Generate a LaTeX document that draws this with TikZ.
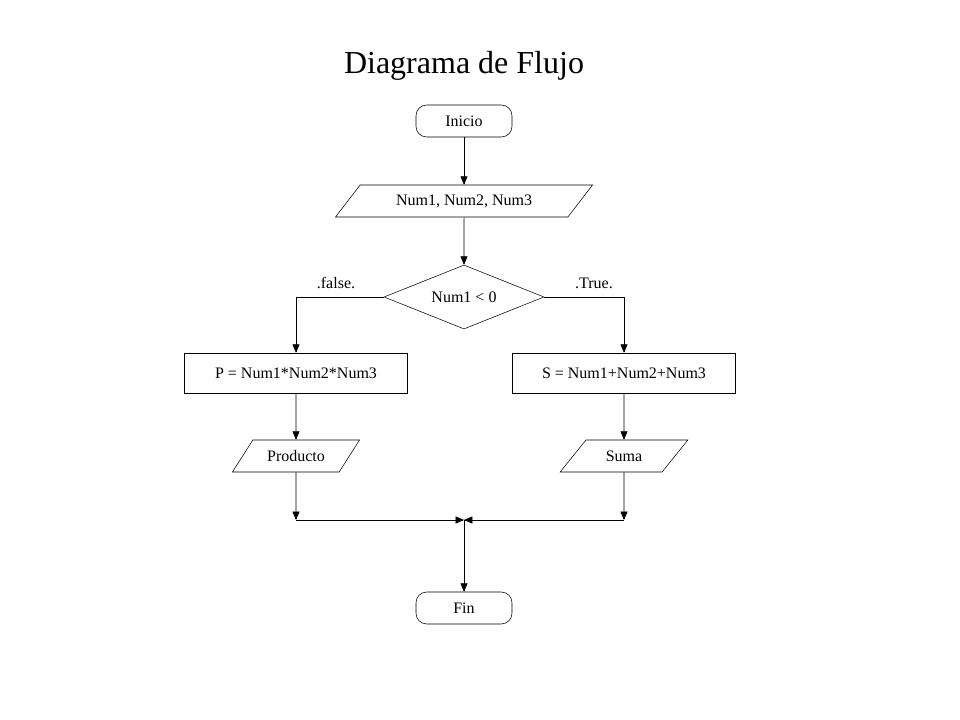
\documentclass[tikz,border=0pt]{standalone}
\usepackage{fontspec}
\setmainfont{Liberation Serif}
\usetikzlibrary{shapes.geometric,arrows}
\tikzset{x=0.75pt,y=-0.75pt,>=triangle 45,
  every node/.style={font=\fontsize{12}{14}\selectfont},
  term/.style={draw,rounded corners=8pt,minimum width=72pt,minimum height=24pt},
  io/.style={draw,trapezium,trapezium left angle=52,trapezium right angle=128,trapezium stretches=true,minimum height=24pt},
  proc/.style={draw,minimum width=167pt,minimum height=30pt,inner sep=1pt},
  cond/.style={draw,diamond,aspect=2.5,minimum width=120pt,minimum height=48pt,inner sep=0pt}}

\begin{document}
\begin{tikzpicture}
  \useasboundingbox (0,0) rectangle (960,720);
  \node (title) at (464,66) {\fontsize{24}{28}\selectfont Diagrama de Flujo};

  \node[term] (inicio) at (464,121) {Inicio};
  \node[io,minimum width=193pt] (datos) at (464,201) {Num1, Num2, Num3};
  \node[cond] (cmp) at (464,297) {Num1 {\textless} 0};
  \node[proc] (prod) at (296,373) {P = Num1*Num2*Num3};
  \node[proc] (suma) at (624,373) {S = Num1+Num2+Num3};
  \node[io,minimum width=96pt] (outp) at (296,456) {Producto};
  \node[io,minimum width=96pt] (outs) at (624,456) {Suma};
  \node[term] (fin) at (464,608) {Fin};

  \node (f) at (336,283) {.false.};
  \node (t) at (594,283) {.True.};

  \coordinate (jl) at (296,520);
  \coordinate (jr) at (624,520);
  \coordinate (jm) at (464,520);

  % flujo principal
  \draw[->] (inicio) -- (datos);
  \draw[->] (datos) -- (cmp);
  \draw[->] (cmp.west) -| (prod.north);
  \draw[->] (cmp.east) -| (suma.north);
  \draw[->] (prod) -- (outp);
  \draw[->] (suma) -- (outs);
  \draw[->] (outp.south) -- (jl);
  \draw[->] (outs.south) -- (jr);
  \draw[->] (jl) -- (jm);
  \draw[->] (jr) -- (jm);
  \draw[->] (jm) -- (fin);
\end{tikzpicture}
\end{document}
